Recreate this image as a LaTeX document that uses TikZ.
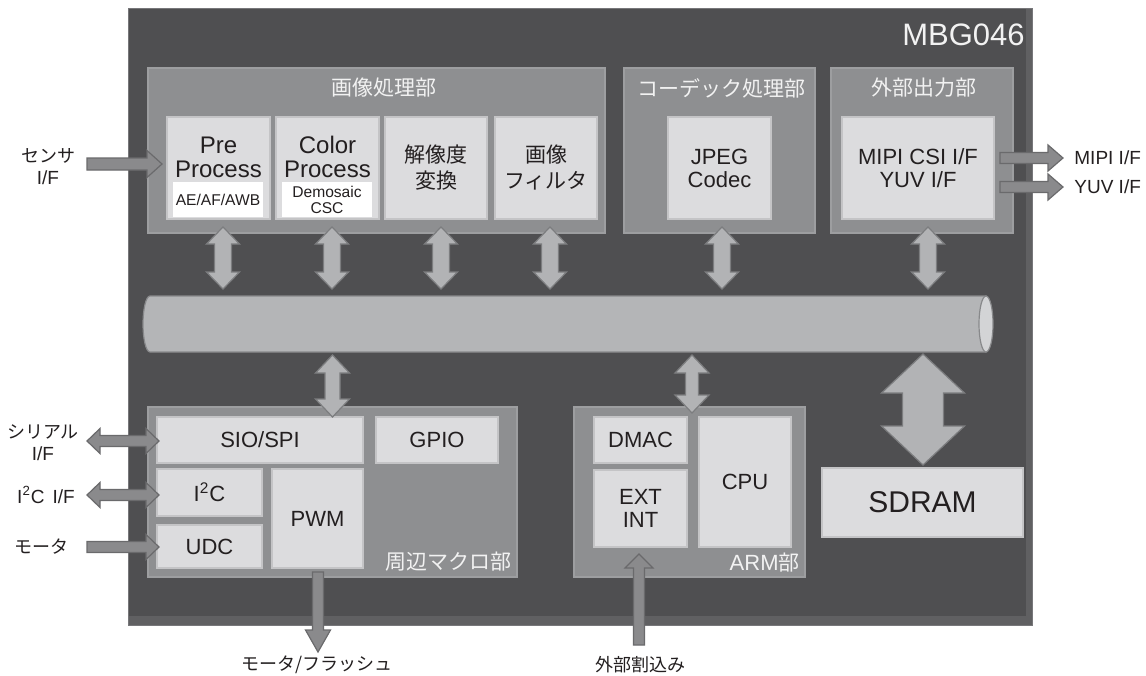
\documentclass[tikz,border=0pt]{standalone}
\usepackage{fontspec}
\setmainfont{Liberation Sans}
\newfontfamily\latfont{Liberation Sans}
\newfontfamily\jpfont{Noto Sans CJK JP}
\usetikzlibrary{calc}
\definecolor{chipfill}{HTML}{4F4F51}
\definecolor{chipedge}{HTML}{606062}
\definecolor{chipline}{HTML}{77777A}
\definecolor{blockfill}{HTML}{8E8F91}
\definecolor{blockedge}{HTML}{9D9EA0}
\definecolor{innerfill}{HTML}{DCDCDE}
\definecolor{inneredge}{HTML}{C4C4C6}
\definecolor{busfill}{HTML}{B4B5B7}
\definecolor{busedge}{HTML}{88898B}
\definecolor{busend}{HTML}{D3D4D6}
\definecolor{arwfill}{HTML}{B2B3B5}
\definecolor{arwedge}{HTML}{7C7D7F}
\definecolor{oarwfill}{HTML}{8A8A8C}
\definecolor{oarwedge}{HTML}{6A6A6C}
\definecolor{txtdark}{HTML}{231F20}
\definecolor{txtlight}{HTML}{F2F2F2}
% box from corner pixel coordinates
\newcommand\mkbox[7]{\node[#6, minimum width={(#4-#2)*0.5pt}, minimum height={(#5-#3)*0.5pt}] (#1) at ({(#2+#4)/2},{(#3+#5)/2}) {#7};}
% vertical double arrow: style, top tip, bottom tip, head half width, shaft half width, head length
\newcommand\arrVD[6]{\path[#1] let \p1=(#2), \p2=(#3) in
  (\x1,\y1) -- (\x1+#4,\y1-#6) -- (\x1+#5,\y1-#6) -- (\x1+#5,\y2+#6) -- (\x1+#4,\y2+#6) -- (\x1,\y2)
  -- (\x1-#4,\y2+#6) -- (\x1-#5,\y2+#6) -- (\x1-#5,\y1-#6) -- (\x1-#4,\y1-#6) -- cycle;}
% horizontal double arrow: style, left tip, right tip, hw, sw, hl
\newcommand\arrHD[6]{\path[#1] let \p1=(#2), \p2=(#3) in
  (\x1,\y1) -- (\x1+#6,\y1+#4) -- (\x1+#6,\y1+#5) -- (\x2-#6,\y1+#5) -- (\x2-#6,\y1+#4) -- (\x2,\y1)
  -- (\x2-#6,\y1-#4) -- (\x2-#6,\y1-#5) -- (\x1+#6,\y1-#5) -- (\x1+#6,\y1-#4) -- cycle;}
% horizontal single arrow to the right: style, tail, tip, hw, sw, hl
\newcommand\arrHR[6]{\path[#1] let \p1=(#2), \p2=(#3) in
  (\x1,\y1+#5) -- (\x2-#6,\y1+#5) -- (\x2-#6,\y1+#4) -- (\x2,\y1) -- (\x2-#6,\y1-#4) -- (\x2-#6,\y1-#5) -- (\x1,\y1-#5) -- cycle;}
% vertical single arrow down: style, tail (top), tip (bottom), hw, sw, hl
\newcommand\arrVDn[6]{\path[#1] let \p1=(#2), \p2=(#3) in
  (\x1-#5,\y1) -- (\x1+#5,\y1) -- (\x1+#5,\y2+#6) -- (\x1+#4,\y2+#6) -- (\x1,\y2) -- (\x1-#4,\y2+#6) -- (\x1-#5,\y2+#6) -- cycle;}
% vertical single arrow up: style, tail (bottom), tip (top), hw, sw, hl
\newcommand\arrVUp[6]{\path[#1] let \p1=(#2), \p2=(#3) in
  (\x1-#5,\y1) -- (\x1+#5,\y1) -- (\x1+#5,\y2-#6) -- (\x1+#4,\y2-#6) -- (\x1,\y2) -- (\x1-#4,\y2-#6) -- (\x1-#5,\y2-#6) -- cycle;}
\begin{document}
\begin{tikzpicture}[x=0.5pt,y=-0.5pt,
  basebox/.style={rectangle, inner sep=0, outer sep=0},
  chipbox/.style={basebox, fill=chipedge, draw=chipline, line width=0.5pt},
  blockbox/.style={basebox, fill=blockfill, draw=blockedge, line width=0.8pt},
  innerbox/.style={basebox, fill=innerfill, draw=inneredge, line width=0.6pt, text=txtdark, align=center, font=\fontsize{11}{11.5}\selectfont},
  jinnerbox/.style={innerbox, font=\jpfont\fontsize{10.5}{13}\selectfont},
  whitebox/.style={basebox, fill=white, text=txtdark, align=center, font=\fontsize{7.8}{8}\selectfont},
  ghost/.style={basebox},
  lt/.style={inner sep=0, text=txtdark, align=center, font=\fontsize{12}{12}\selectfont},
  ttl/.style={inner sep=0, text=txtlight, font=\jpfont\fontsize{10.5}{12}\selectfont},
  olt/.style={inner sep=0, text=txtdark, align=center, font=\latfont\fontsize{9.5}{11}\selectfont},
  ojt/.style={inner sep=0, text=txtdark, align=center, font=\jpfont\fontsize{9}{11}\selectfont},
  arw/.style={fill=arwfill, draw=arwedge, line width=0.6pt},
  oarw/.style={fill=oarwfill, draw=oarwedge, line width=0.6pt}]
\fill[white] (0,0) rectangle (1146,675);
\useasboundingbox (0,0) rectangle (1146,675);

% chip
\mkbox{chip}{128}{8}{1032}{625}{chipbox}{}
\fill[chipfill] ($(chip.north west)+(1,1)$) rectangle ($(chip.south east)+(-6,-9)$);
\node[inner sep=0, anchor=east, text=txtlight, font=\fontsize{15.5}{16}\selectfont] (mbg) at (1025,35) {MBG046};

% sub-blocks
\mkbox{ip}{148}{68}{605}{233}{blockbox}{}
\mkbox{codec}{624}{68}{815}{233}{blockbox}{}
\mkbox{outb}{831}{68}{1013}{233}{blockbox}{}
\node[ttl] (ipt) at (384,88) {画像処理部};
\node[ttl] (codect) at (721,88) {コーデック処理部};
\node[ttl] (outbt) at (924,88) {外部出力部};

% image processing inner boxes
\mkbox{pre}{167}{117}{270}{219}{innerbox}{}
\mkbox{col}{276}{117}{379}{219}{innerbox}{}
\mkbox{res}{385}{117}{487}{219}{jinnerbox}{解像度\\変換}
\mkbox{flt}{495}{117}{597}{219}{jinnerbox}{画像\\フィルタ}
\node[lt] (pret) at (218.5,157) {Pre\\Process};
\node[lt] (colt) at (327.5,157) {Color\\Process};
\mkbox{aeaf}{173}{182}{263}{217}{whitebox}{AE/AF/AWB}
\mkbox{demo}{282}{182}{372}{217}{whitebox}{Demosaic\\CSC}

\mkbox{jpeg}{668}{117}{771}{219}{innerbox}{JPEG\\Codec}
\mkbox{mipi}{842}{117}{994}{219}{innerbox}{MIPI CSI I/F\\YUV I/F}

% bus
\mkbox{bus}{143}{296}{993}{352}{ghost}{}
\path[fill=busfill, draw=busedge, line width=0.6pt] (150,296) -- (986,296) -- (986,352) -- (150,352)
  .. controls (146.13,352) and (143,339.46) .. (143,324)
  .. controls (143,308.54) and (146.13,296) .. (150,296) -- cycle;
\path[fill=busend, draw=busedge, line width=0.6pt] (986,324) ellipse [x radius=3.5pt, y radius=14pt];

% peripheral block
\mkbox{per}{148}{407}{517}{577}{blockbox}{}
\mkbox{sio}{157}{417}{363}{463}{innerbox}{SIO/SPI}
\mkbox{gpio}{376}{417}{498}{463}{innerbox}{GPIO}
\mkbox{i2c}{157}{469}{262}{516}{innerbox}{I\textsuperscript{2}C}
\mkbox{udc}{157}{525}{262}{568}{innerbox}{UDC}
\mkbox{pwm}{272}{469}{363}{568}{innerbox}{PWM}
\node[ttl, anchor=east] (pert) at (512,562) {周辺マクロ部};

% ARM block
\mkbox{arm}{574}{407}{805}{577}{blockbox}{}
\mkbox{dmac}{594}{417}{687}{463}{innerbox}{DMAC}
\mkbox{ext}{594}{470}{687}{547}{innerbox}{EXT\\INT}
\mkbox{cpu}{699}{417}{791}{547}{innerbox}{CPU}
\node[inner sep=0, anchor=east, text=txtlight, font=\fontsize{11}{12}\selectfont] (armt) at (800,563) {ARM{\jpfont\fontsize{10.5}{12}\selectfont 部}};

% SDRAM
\mkbox{sdram}{822}{468}{1023}{537}{innerbox, font=\fontsize{15}{16}\selectfont}{SDRAM}

% internal double arrows
\arrVD{arw}{$(pre.south |- ip.south)+(4.5,-6)$}{$(pre.south |- bus.north)+(4.5,-7)$}{8.25pt}{4.25pt}{8.5pt}
\arrVD{arw}{$(col.south |- ip.south)+(4.5,-6)$}{$(col.south |- bus.north)+(4.5,-7)$}{8.25pt}{4.25pt}{8.5pt}
\arrVD{arw}{$(res.south |- ip.south)+(5,-6)$}{$(res.south |- bus.north)+(5,-7)$}{8.25pt}{4.25pt}{8.5pt}
\arrVD{arw}{$(flt.south |- ip.south)+(4,-6)$}{$(flt.south |- bus.north)+(4,-7)$}{8.25pt}{4.25pt}{8.5pt}
\arrVD{arw}{$(jpeg.south |- codec.south)+(2.5,-6)$}{$(jpeg.south |- bus.north)+(2.5,-7)$}{8.25pt}{4.25pt}{8.5pt}
\arrVD{arw}{$(mipi.south |- outb.south)+(10,-6)$}{$(mipi.south |- bus.north)+(10,-7)$}{8.25pt}{4.25pt}{8.5pt}
\arrVD{arw}{$(per.north |- bus.south)+(0,3)$}{$(per.north)+(0,10)$}{8.5pt}{3.75pt}{9pt}
\arrVD{arw}{$(arm.north |- bus.south)+(2.5,3)$}{$(arm.north)+(2.5,6)$}{8.5pt}{3.25pt}{9pt}
\arrVD{arw}{$(sdram.north |- bus.south)+(0.5,2)$}{$(sdram.north)+(0.5,-3)$}{20.75pt}{10.25pt}{19.5pt}

% external connectors
\coordinate (sensT) at (87,164);
\coordinate (serT) at (87,441);
\coordinate (i2cT) at (87,495);
\coordinate (motT) at (87,547);
\coordinate (mipiT) at (1063,158);
\coordinate (yuvT) at (1063,187);
\coordinate (pwmT) at (318,652);
\coordinate (extT) at (639,645);
\arrHR{oarw}{sensT}{$(pre.west)+(-5,0)$}{6.75pt}{3pt}{7.5pt}
\arrHD{oarw}{serT}{$(sio.west)+(2,0)$}{6.25pt}{2.75pt}{6.5pt}
\arrHD{oarw}{i2cT}{$(i2c.west)+(2,0)$}{6.25pt}{2.75pt}{6.5pt}
\arrHR{oarw}{motT}{$(udc.west)+(2,0)$}{6.25pt}{2.75pt}{6.5pt}
\arrHR{oarw}{$(mipi.east)+(6,-10)$}{mipiT}{6.5pt}{2.75pt}{7.5pt}
\arrHR{oarw}{$(mipi.east)+(6,19)$}{yuvT}{6.5pt}{2.75pt}{7.5pt}
\arrVDn{oarw}{$(pwm.south)+(0.5,4)$}{pwmT}{6.25pt}{2.75pt}{11pt}
\arrVUp{oarw}{extT}{$(ext.south)+(-1.5,7)$}{7pt}{2.75pt}{7pt}

% external labels
\node[ojt] (sensor) at (48,166.5) {センサ\\{\latfont\fontsize{9.5}{11}\selectfont I/F}};
\node[ojt] (serial) at (43,442.5) {シリアル\\{\latfont\fontsize{9.5}{11}\selectfont I/F}};
\node[olt] (i2cl) at (46,495) {I\textsuperscript{2}C\hspace{4pt}I/F};
\node[ojt] (motor) at (41,547) {モータ};
\node[ojt] (motfl) at (317,665) {モータ/フラッシュ};
\node[ojt] (extint) at (640,665) {外部割込み};
\node[olt, anchor=west] (mipil) at (1074,158) {MIPI I/F};
\node[olt, anchor=west] (yuvl) at (1074,187) {YUV I/F};
\end{tikzpicture}
\end{document}
